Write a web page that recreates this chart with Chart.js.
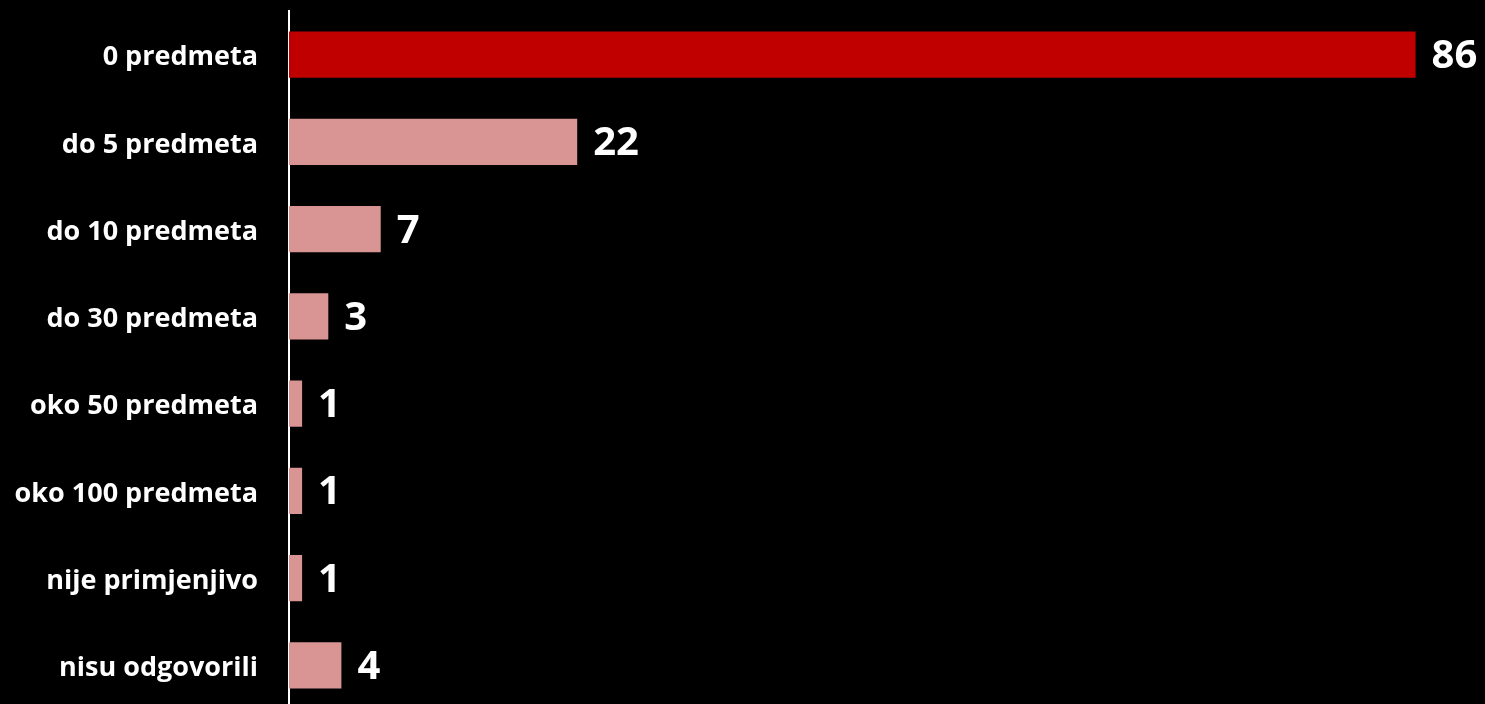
<!DOCTYPE html>
<html>
<head>
<meta charset="utf-8">
<script src="https://cdn.jsdelivr.net/npm/chart.js@4.4.1/dist/chart.umd.min.js"></script>
<style>
  html, body { margin: 0; padding: 0; background: #000; overflow: hidden; }
  canvas { display: block; }
</style>
</head>
<body>
<canvas id="chart" width="1485" height="710"></canvas>
<script>
// categories + values
const categories = ["0 predmeta", "do 5 predmeta", "do 10 predmeta", "do 30 predmeta",
                    "oko 50 predmeta", "oko 100 predmeta", "nije primjenjivo", "nisu odgovorili"];
const counts = [86, 22, 7, 3, 1, 1, 1, 4];
const barColors = ["#c00000", "#d99594", "#d99594", "#d99594", "#d99594", "#d99594", "#d99594", "#d99594"];

// draws the big number at the end of every bar
const valueLabels = {
  id: "valueLabels",
  afterDatasetsDraw(chart) {
    const c = chart.ctx;
    const meta = chart.getDatasetMeta(0);
    c.save();
    c.fillStyle = "#fff";
    c.font = "bold 40px 'Open Sans'";
    c.textBaseline = "middle";
    c.textAlign = "left";
    meta.data.forEach((bar, i) => {
      c.fillText(String(counts[i]), bar.x + 16, bar.y + 2);
    });
    c.restore();
  }
};

new Chart(document.getElementById("chart"), {
  type: "bar",
  data: {
    labels: categories,
    datasets: [{
      data: counts,
      backgroundColor: barColors,
      borderWidth: 0,
      barPercentage: 0.53,
      categoryPercentage: 1
    }]
  },
  options: {
    indexAxis: "y",
    responsive: false,
    animation: false,
    devicePixelRatio: 1,
    layout: { padding: { top: 11, bottom: 1, left: 0, right: 17 } },
    plugins: { legend: { display: false }, tooltip: { enabled: false } },
    scales: {
      x: { display: false, min: 0, max: 90 },
      y: {
        grid: { display: false, drawTicks: false },
        border: { display: true, color: "#fff", width: 2 },
        ticks: { color: "#fff", padding: 31, autoSkip: false, labelOffset: 3,
                 font: { family: "'Open Sans'", weight: "bold", size: 27 } },
        afterFit(s) { s.width = 289; s.paddingTop = 0; s.paddingBottom = 0; }
      }
    }
  },
  plugins: [valueLabels]
});
</script>
</body>
</html>
